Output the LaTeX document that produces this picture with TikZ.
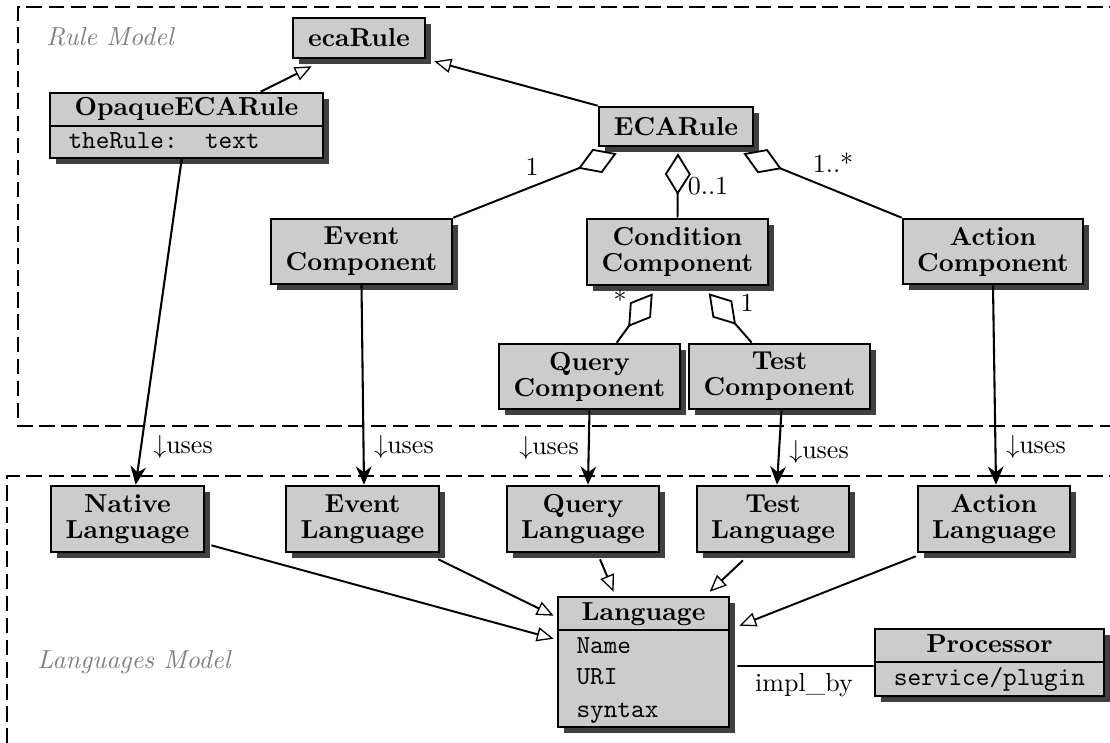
\documentclass[tikz,border=0pt]{standalone}
\usetikzlibrary{arrows.meta,calc,shadows}
\definecolor{boxfill}{gray}{0.8}
\definecolor{shadowc}{gray}{0.25}
\definecolor{regionlbl}{gray}{0.5}
\begin{document}
\begin{tikzpicture}[x=0.3846pt, y=-0.3846pt,
  cls/.style={draw, line width=1pt, fill=boxfill, inner sep=0pt, align=center, font=\bfseries,
    drop shadow={shadow xshift=2.3pt, shadow yshift=-2.3pt, fill=shadowc, opacity=1}},
  wh/.style 2 args={minimum width=#1*0.3846pt, minimum height=#2*0.3846pt},
  ttl/.style={font=\bfseries, inner sep=0pt, anchor=base},
  attr/.style={font=\ttfamily, inner sep=0pt, anchor=base west},
  divider/.style={line width=1pt},
  gen/.style={line width=0.75pt, -{Triangle[fill=white, length=6.5pt, width=5.5pt, line width=0.5pt]}},
  agg/.style={line width=0.75pt, -{Diamond[fill=white, length=16pt, width=10pt, line width=0.7pt]}},
  uses/.style={line width=0.8pt, -{Stealth[length=7pt, width=6pt, inset=2.2pt]}},
  region/.style={line width=0.8pt, dash pattern=on 6pt off 2.5pt},
  regionlabel/.style={font=\itshape, text=regionlbl, inner sep=0pt},
  mult/.style={inner sep=0pt},
]
\useasboundingbox (0,0) rectangle (1110,742);
\clip (0,0) rectangle (1110,742);

% regions
\draw[region] (1125,7) -- (18,7) -- (18,426) -- (1125,426);
\draw[region] (1125,476) -- (7,476) -- (7,760);
\node[regionlabel] (rmlabel) at (110,37) {Rule Model};
\node[regionlabel] (lmlabel) at (134,662) {Languages Model};

% rule model classes
\node[cls, wh={132}{40}] (ecr) at (359,38) {ecaRule};
\node[cls, wh={154}{39}] (eca) at (676,126.5) {ECARule};
\node[cls, wh={273}{65}] (opq) at (186.5,125.5) {};
\node[ttl] (opqt) at (186.5,115) {OpaqueECARule};
\draw[divider] (opq.west |- 0,126) -- (opq.east |- 0,126);
\node[attr] (opqa) at (68,148) {theRule:\ \ text};

\node[cls, wh={181}{65}] (evc) at (361.5,251.5) {Event\\[-2pt]Component};
\node[cls, wh={181}{66}] (cc) at (677.5,252) {Condition\\[-2pt]Component};
\node[cls, wh={180}{65}] (ac) at (993,251.5) {Action\\[-2pt]Component};
\node[cls, wh={181}{65}] (qc) at (589.5,376.5) {Query\\[-2pt]Component};
\node[cls, wh={181}{65}] (tc) at (779.5,376.5) {Test\\[-2pt]Component};

% languages model
\node[cls, wh={153}{66}] (nat) at (127.5,519) {Native\\[-2pt]Language};
\node[cls, wh={153}{66}] (evl) at (362.5,519) {Event\\[-2pt]Language};
\node[cls, wh={152}{66}] (ql) at (583,519) {Query\\[-2pt]Language};
\node[cls, wh={152}{66}] (tl) at (773,519) {Test\\[-2pt]Language};
\node[cls, wh={152}{66}] (al) at (994,519) {Action\\[-2pt]Language};

\node[cls, wh={171}{130}] (lang) at (643.5,662) {};
\node[ttl] (langt) at (643.5,620) {Language};
\draw[divider] (lang.west |- 0,630) -- (lang.east |- 0,630);
\node[attr] (la1) at (576,653) {Name};
\node[attr] (la2) at (576,684) {URI};
\node[attr] (la3) at (576,717) {syntax};

\node[cls, wh={229}{67}] (proc) at (989.5,662.5) {};
\node[ttl] (proct) at (989.5,652) {Processor};
\draw[divider] (proc.west |- 0,662) -- (proc.east |- 0,662);
\node[attr, anchor=base] (proca) at (989.5,685) {service/plugin};

% generalizations in rule model
\draw[gen] ($(opq.north west)+(212,0)$) -- ($(ecr.south west)+(20,7)$);
\draw[gen] (eca.north west) -- ($(ecr.south east)+(8,2)$);

% aggregations
\draw[agg] (evc.north east) -- ($(eca.south west)+(19,6)$);
\draw[agg] (cc.north) -- ($(eca.south)+(2,6)$);
\draw[agg] (ac.north west) -- ($(eca.south east)+(-11,6)$);
\draw[agg] ($(qc.north west)+(119,0)$) -- ($(cc.south west)+(67,7)$);
\draw[agg] ($(tc.north west)+(64,0)$) -- ($(cc.south west)+(123,7)$);
\node[mult] (m1) at (532,167) {1};
\node[mult] (m2) at (708,186) {0..1};
\node[mult] (m3) at (833,163) {1..*};
\node[mult] (m4) at (620,300) {*};
\node[mult] (m5) at (747,303) {1};

% uses
\draw[uses] ($(opq.south west)+(133,0)$) -- ($(nat.north west)+(86,0)$);
\draw[uses] (evc.south) -- ($(evl.north)+(1.5,0)$);
\draw[uses] (qc.south) -- ($(ql.north)+(5,0)$);
\draw[uses] ($(tc.south)+(2,0)$) -- ($(tl.north)+(4,0)$);
\draw[uses] (ac.south) -- ($(al.north)+(2,0)$);
\node[mult] (u1) at (183,447) {$\downarrow$uses};
\node[mult] (u2) at (404,447) {$\downarrow$uses};
\node[mult] (u3) at (549,448) {$\downarrow$uses};
\node[mult] (u4) at (819,452) {$\downarrow$uses};
\node[mult] (u5) at (1036,447) {$\downarrow$uses};

% language generalizations
\draw[gen] ($(nat.south east)+(6,-8)$) -- ($(lang.north west)+(-3,43)$);
\draw[gen] ($(evl.south east)+(-2,6)$) -- ($(lang.north west)+(-3,20)$);
\draw[gen] ($(ql.south)+(17,6)$) -- ($(lang.north west)+(57,-4)$);
\draw[gen] ($(tl.south)+(-30,7)$) -- ($(lang.north west)+(153,-4)$);
\draw[gen] ($(al.south west)+(-1,3)$) -- ($(lang.north east)+(9,30)$);

% impl_by
\draw[line width=0.75pt] ($(lang.east)+(7,4)$) -- ($(proc.west)+(0,3.5)$);
\node[mult] (impl) at (804,685) {impl\_by};
\end{tikzpicture}
\end{document}
